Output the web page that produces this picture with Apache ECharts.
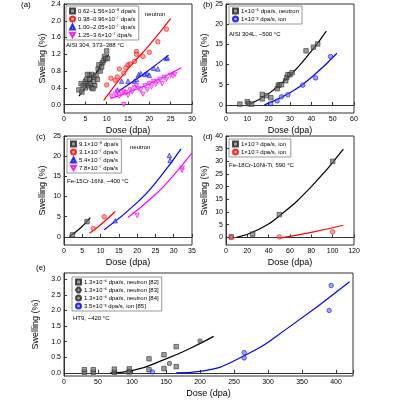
<!DOCTYPE html>
<html>
<head>
<meta charset="utf-8">
<script src="https://cdn.jsdelivr.net/npm/echarts@6/dist/echarts.min.js"></script>
<style>html,body{margin:0;padding:0;background:#fff}#chart{width:400px;height:400px}</style>
</head>
<body>
<div id="chart"></div>
<script>
// panel (a) AISI 304
const aBlack = [[3.5,0.35],[4,0.5],[4.2,0.3],[4.5,0.45],[5,0.55],[5,0.4],[5.3,0.6],[5.5,0.5],[5.8,0.45],[6,0.7],[6,0.6],[6.2,0.5],[6.5,0.72],[6.5,0.4],[7,0.65],[7,0.55],[7.2,0.45],[7.5,0.7],[7.8,0.6],[8,0.85],[8.2,0.95],[8.5,0.8],[8.8,0.9],[9,1.0],[9.3,1.05],[9.5,1.15],[9.8,1.1],[10,1.28],[10.2,1.1],[6.8,0.38],[5.5,0.72]];
const aRed = [[10,0.47],[11,0.63],[12,0.58],[12.5,0.66],[13,0.85],[14,0.75],[14.5,0.88],[15,0.95],[15.5,0.97],[16.5,1.03],[17,1.27],[17,1.2],[18.5,1.15],[20,1.25],[22,1.5],[24,1.8]];
const aBlue = [[12.5,0.35],[13.5,0.56],[15,0.56],[16.5,0.56],[17,0.6],[17.5,0.72],[18,0.74],[19,0.72],[19.5,0.75],[20,0.7],[21,0.87],[22,0.85],[24,1.1],[24.2,1.12]];
const aMag = [[11,0.2],[12,0.25],[12.5,0.3],[13,0.2],[13.5,0.25],[14,0.0],[14,0.3],[14.5,0.28],[15,0.22],[15.5,0.35],[16,0.3],[16.5,0.4],[17,0.45],[17.5,0.38],[18,0.35],[18.5,0.25],[19,0.45],[19.5,0.35],[20,0.5],[20.5,0.42],[21,0.55],[21.5,0.48],[22,0.55],[22.5,0.6],[23,0.5],[23.5,0.65],[24,0.6],[25,0.7],[25.5,0.68],[26,0.72]];
const aFitBlack = [[3.5,0.2],[7,0.68],[10.5,1.2]];
const aFitRed = [[9.3,0.1],[15,0.85],[20,1.42],[25,2.05]];
const aFitBlue = [[12.5,0.3],[18,0.68],[24.5,1.18]];
const aFitMag = [[11,0.15],[19,0.45],[27.5,0.88]];

// panel (b) AISI 304L
const bBlack = [[6.5,0.2],[10,0.8],[10.5,0.3],[12,0.2],[17,1.5],[17,2.6],[19,2.3],[21,1.8],[24,4],[24.5,4.8],[25,5],[26,5],[28,6],[28.5,6.8],[29,7.5],[30,7.5],[31,8],[37.5,13.4],[41,14.3],[43,15.1]];
const bBlue = [[21,0.3],[24,1],[26,2],[29,2.5],[36,4.9],[42,6.7],[49,12]];
const bFitBlack = [[11,0.2],[20,2.8],[30,7.3],[40,13.3],[47,18.3]];
const bFitBlue = [[18,0],[30,3],[40,6.8],[52,12.8]];

// panel (c) Fe-15Cr-16Ni
const cBlack = [[2.3,0.5],[6.3,3.8]];
const cRed = [[8,2.1],[11,5]];
const cBlue = [[14,4],[28.8,20.2],[29,19]];
const cMag = [[20,5.3],[32.3,17],[32.3,16.5]];
const cFitBlack = [[1.5,0.1],[4.5,2.2],[7.2,4.8]];
const cFitRed = [[7,0.9],[10.5,3.4],[14,6.3]];
const cFitBlue = [[11,1.8],[20,8.5],[26,14.5],[32,21.8]];
const cFitMag = [[17.5,4.8],[25,10.5],[30,15.3],[35,20.8]];

// panel (d) Fe-18Cr-10Ni-Ti
const dBlack = [[5,0.2],[25,1.3],[50,9],[100,30]];
const dRed = [[5,0],[50,0.2],[100,2.2]];
const dFitBlack = [[10,0],[30,3],[50,8.5],[80,20],[110,34.8]];
const dFitRed = [[50,-0.3],[80,2],[110,4.8]];

// panel (e) HT9
const e82 = [[30,0.02],[30,0.1],[43,0.02],[43,0.1],[74,0.02],[74,0.12],[96,0.03],[96,0.13],[125,0.45],[125,0.1],[147,0.58],[147,0.14],[165,0.84],[165,0.2]];
const e83 = [[95,0.05]];
const e84 = [[155,0.3],[200,1.02]];
const eIon = [[130,0.03],[265,0.65],[265,0.48],[390,2.0],[393,2.8]];
const eFitBlack = [[68,0],[100,0.07],[150,0.45],[185,0.78],[220,1.17]];
const eFitBlue = [[165,0],[200,0.05],[265,0.55],[330,1.45],[420,2.92]];

const sty = {
    k: { color: 'rgba(110,110,110,0.85)', borderColor: '#222', line: '#000' },
    r: { color: 'rgba(255,110,110,0.8)', borderColor: '#e00', line: '#f00' },
    b: { color: 'rgba(110,110,255,0.8)', borderColor: '#00e', line: '#00f' },
    m: { color: 'rgba(255,110,255,0.8)', borderColor: '#e0e', line: '#f0f' }
};
const FONT = 'Liberation Sans, Arial, sans-serif';

function pts(name, data, idx, s, symbol, size) {
    return { name, type: 'scatter', xAxisIndex: idx, yAxisIndex: idx, data, symbol, symbolSize: size || 4.5,
        itemStyle: { color: s.color, borderColor: s.borderColor, borderWidth: 0.7 }, z: 3 };
}
function fit(data, idx, s) {
    return { type: 'line', xAxisIndex: idx, yAxisIndex: idx, data, smooth: true, showSymbol: false,
        lineStyle: { color: s.line, width: 1.2 }, z: 2, silent: true };
}
function xAx(idx, max, interval) {
    return { gridIndex: idx, type: 'value', min: 0, max, interval,
        name: 'Dose (dpa)', nameLocation: 'middle', nameGap: 13,
        nameTextStyle: { fontSize: 9, fontFamily: FONT, color: '#000' },
        axisLine: { lineStyle: { color: '#333' } }, axisTick: { inside: true, length: 3 },
        axisLabel: { fontSize: 7, margin: 3, color: '#000', fontFamily: FONT }, splitLine: { show: false } };
}
function yAx(idx, min, max, ticks, fmt) {
    return { gridIndex: idx, type: 'value', min, max,
        name: 'Swelling (%)', nameLocation: 'middle', nameGap: idx === 4 ? 22 : 17,
        nameTextStyle: { fontSize: 9, fontFamily: FONT, color: '#000' },
        axisLine: { lineStyle: { color: '#333' } },
        axisTick: { inside: true, length: 3, customValues: ticks },
        axisLabel: { fontSize: 7, margin: 3, color: '#000', fontFamily: FONT, customValues: ticks, formatter: fmt },
        splitLine: { show: false } };
}
function legend(left, top, names) {
    return { left, top, orient: 'vertical', data: names, itemWidth: 5, itemHeight: 5, itemGap: 0,
        padding: [1, 3], borderColor: '#555', borderWidth: 0.6, borderRadius: 0,
        textStyle: { fontSize: 6, lineHeight: 8, fontFamily: FONT, color: '#000', padding: [0, 0, 0, -2] } };
}
function txt(left, top, text, size) {
    return { type: 'text', left, top, style: { text, fontSize: size || 6, fontFamily: FONT, fill: '#000' } };
}

const aNames = ['0.62–1.56×10⁻⁸ dpa/s', '0.38–0.96×10⁻⁷ dpa/s', '1.00–2.05×10⁻⁷ dpa/s', '1.25–3.6×10⁻⁷ dpa/s'];
const bNames = ['1×10⁻⁶ dpa/s, neutron', '1×10⁻³ dpa/s, ion'];
const cNames = ['9.1×10⁻⁸ dpa/s', '3.1×10⁻⁷ dpa/s', '5.4×10⁻⁷ dpa/s', '7.8×10⁻⁷ dpa/s'];
const dNames = ['1×10⁻³ dpa/s, ion ', '1×10⁻² dpa/s, ion'];
const eNames = ['1.3×10⁻⁶ dpa/s, neutron [82]', '1.3×10⁻⁶ dpa/s, neutron [83]', '1.3×10⁻⁶ dpa/s, neutron [84]', '3.5×10⁻³ dpa/s, ion [85]'];

const frame = { show: true, borderColor: '#333', borderWidth: 1 };
const option = {
    animation: false,
    grid: [
        Object.assign({ left: 64, top: 4, width: 128, height: 109 }, frame),
        Object.assign({ left: 226, top: 4, width: 128, height: 109 }, frame),
        Object.assign({ left: 64, top: 136, width: 128, height: 109 }, frame),
        Object.assign({ left: 226, top: 136, width: 128, height: 109 }, frame),
        Object.assign({ left: 64, top: 273, width: 289, height: 103 }, frame)
    ],
    xAxis: [xAx(0, 30, 5), xAx(1, 60, 10), xAx(2, 35, 5), xAx(3, 120, 20), Object.assign(xAx(4, 425, 50), { axisLabel: { fontSize: 7, margin: 3, color: '#000', fontFamily: FONT, formatter: v => v > 400 ? '' : v } })],
    yAxis: [
        yAx(0, -0.2, 2.4, [0, 0.4, 0.8, 1.2, 1.6, 2.0, 2.4], v => v.toFixed(1)),
        yAx(1, -2, 25, [0, 5, 10, 15, 20, 25]),
        yAx(2, -2, 25, [0, 5, 10, 15, 20, 25]),
        yAx(3, -3, 40, [0, 5, 10, 15, 20, 25, 30, 35, 40]),
        yAx(4, -0.1, 3.2, [0, 0.5, 1, 1.5, 2, 2.5, 3], v => v.toFixed(1))
    ],
    legend: [legend(66, 6, aNames), legend(229, 6, bNames), legend(67, 139, cNames), legend(229, 139, dNames), legend(72, 277, eNames)],
    series: [
        pts(aNames[0], aBlack, 0, sty.k, 'rect'), pts(aNames[1], aRed, 0, sty.r, 'circle'),
        pts(aNames[2], aBlue, 0, sty.b, 'triangle'), pts(aNames[3], aMag, 0, sty.m, 'path://M0,0L10,0L5,9Z'),
        fit(aFitBlack, 0, sty.k), fit(aFitRed, 0, sty.r), fit(aFitBlue, 0, sty.b), fit(aFitMag, 0, sty.m),
        pts(bNames[0], bBlack, 1, sty.k, 'rect'), pts(bNames[1], bBlue, 1, sty.b, 'circle'),
        fit(bFitBlack, 1, sty.k), fit(bFitBlue, 1, sty.b),
        pts(cNames[0], cBlack, 2, sty.k, 'rect'), pts(cNames[1], cRed, 2, sty.r, 'circle'),
        pts(cNames[2], cBlue, 2, sty.b, 'triangle'), pts(cNames[3], cMag, 2, sty.m, 'path://M0,0L10,0L5,9Z'),
        fit(cFitBlack, 2, sty.k), fit(cFitRed, 2, sty.r), fit(cFitBlue, 2, sty.b), fit(cFitMag, 2, sty.m),
        pts(dNames[0], dBlack, 3, sty.k, 'rect'), pts(dNames[1], dRed, 3, sty.r, 'circle'),
        fit(dFitBlack, 3, sty.k), fit(dFitRed, 3, sty.r),
        pts(eNames[0], e82, 4, sty.k, 'rect'), pts(eNames[1], e83, 4, sty.k, 'path://M3,0L7,0L10,5L7,10L3,10L0,5Z'),
        pts(eNames[2], e84, 4, sty.k, 'circle'), pts(eNames[3], eIon, 4, sty.b, 'circle'),
        fit(eFitBlack, 4, sty.k), fit(eFitBlue, 4, sty.b)
    ],
    graphic: [
        txt(21, 1, '(a)', 8), txt(203, 1, '(b)', 8), txt(36, 133, '(c)', 8), txt(203, 133, '(d)', 8), txt(36, 264, '(e)', 8),
        txt(145, 11, 'neutron'), txt(66, 42, 'AISI 304, 373–388 °C'),
        txt(229, 31, 'AISI 304L, ~500 °C'),
        txt(130, 144, 'neutron'), txt(67, 178, 'Fe-15Cr-16Ni, ~400 °C'),
        txt(229, 162, 'Fe-18Cr-10Ni-Ti, 590 °C'),
        txt(73, 315, 'HT9, ~420 °C')
    ]
};

const chart = echarts.init(document.getElementById('chart'), null, { renderer: 'canvas' });
chart.setOption(option);
</script>
</body>
</html>
